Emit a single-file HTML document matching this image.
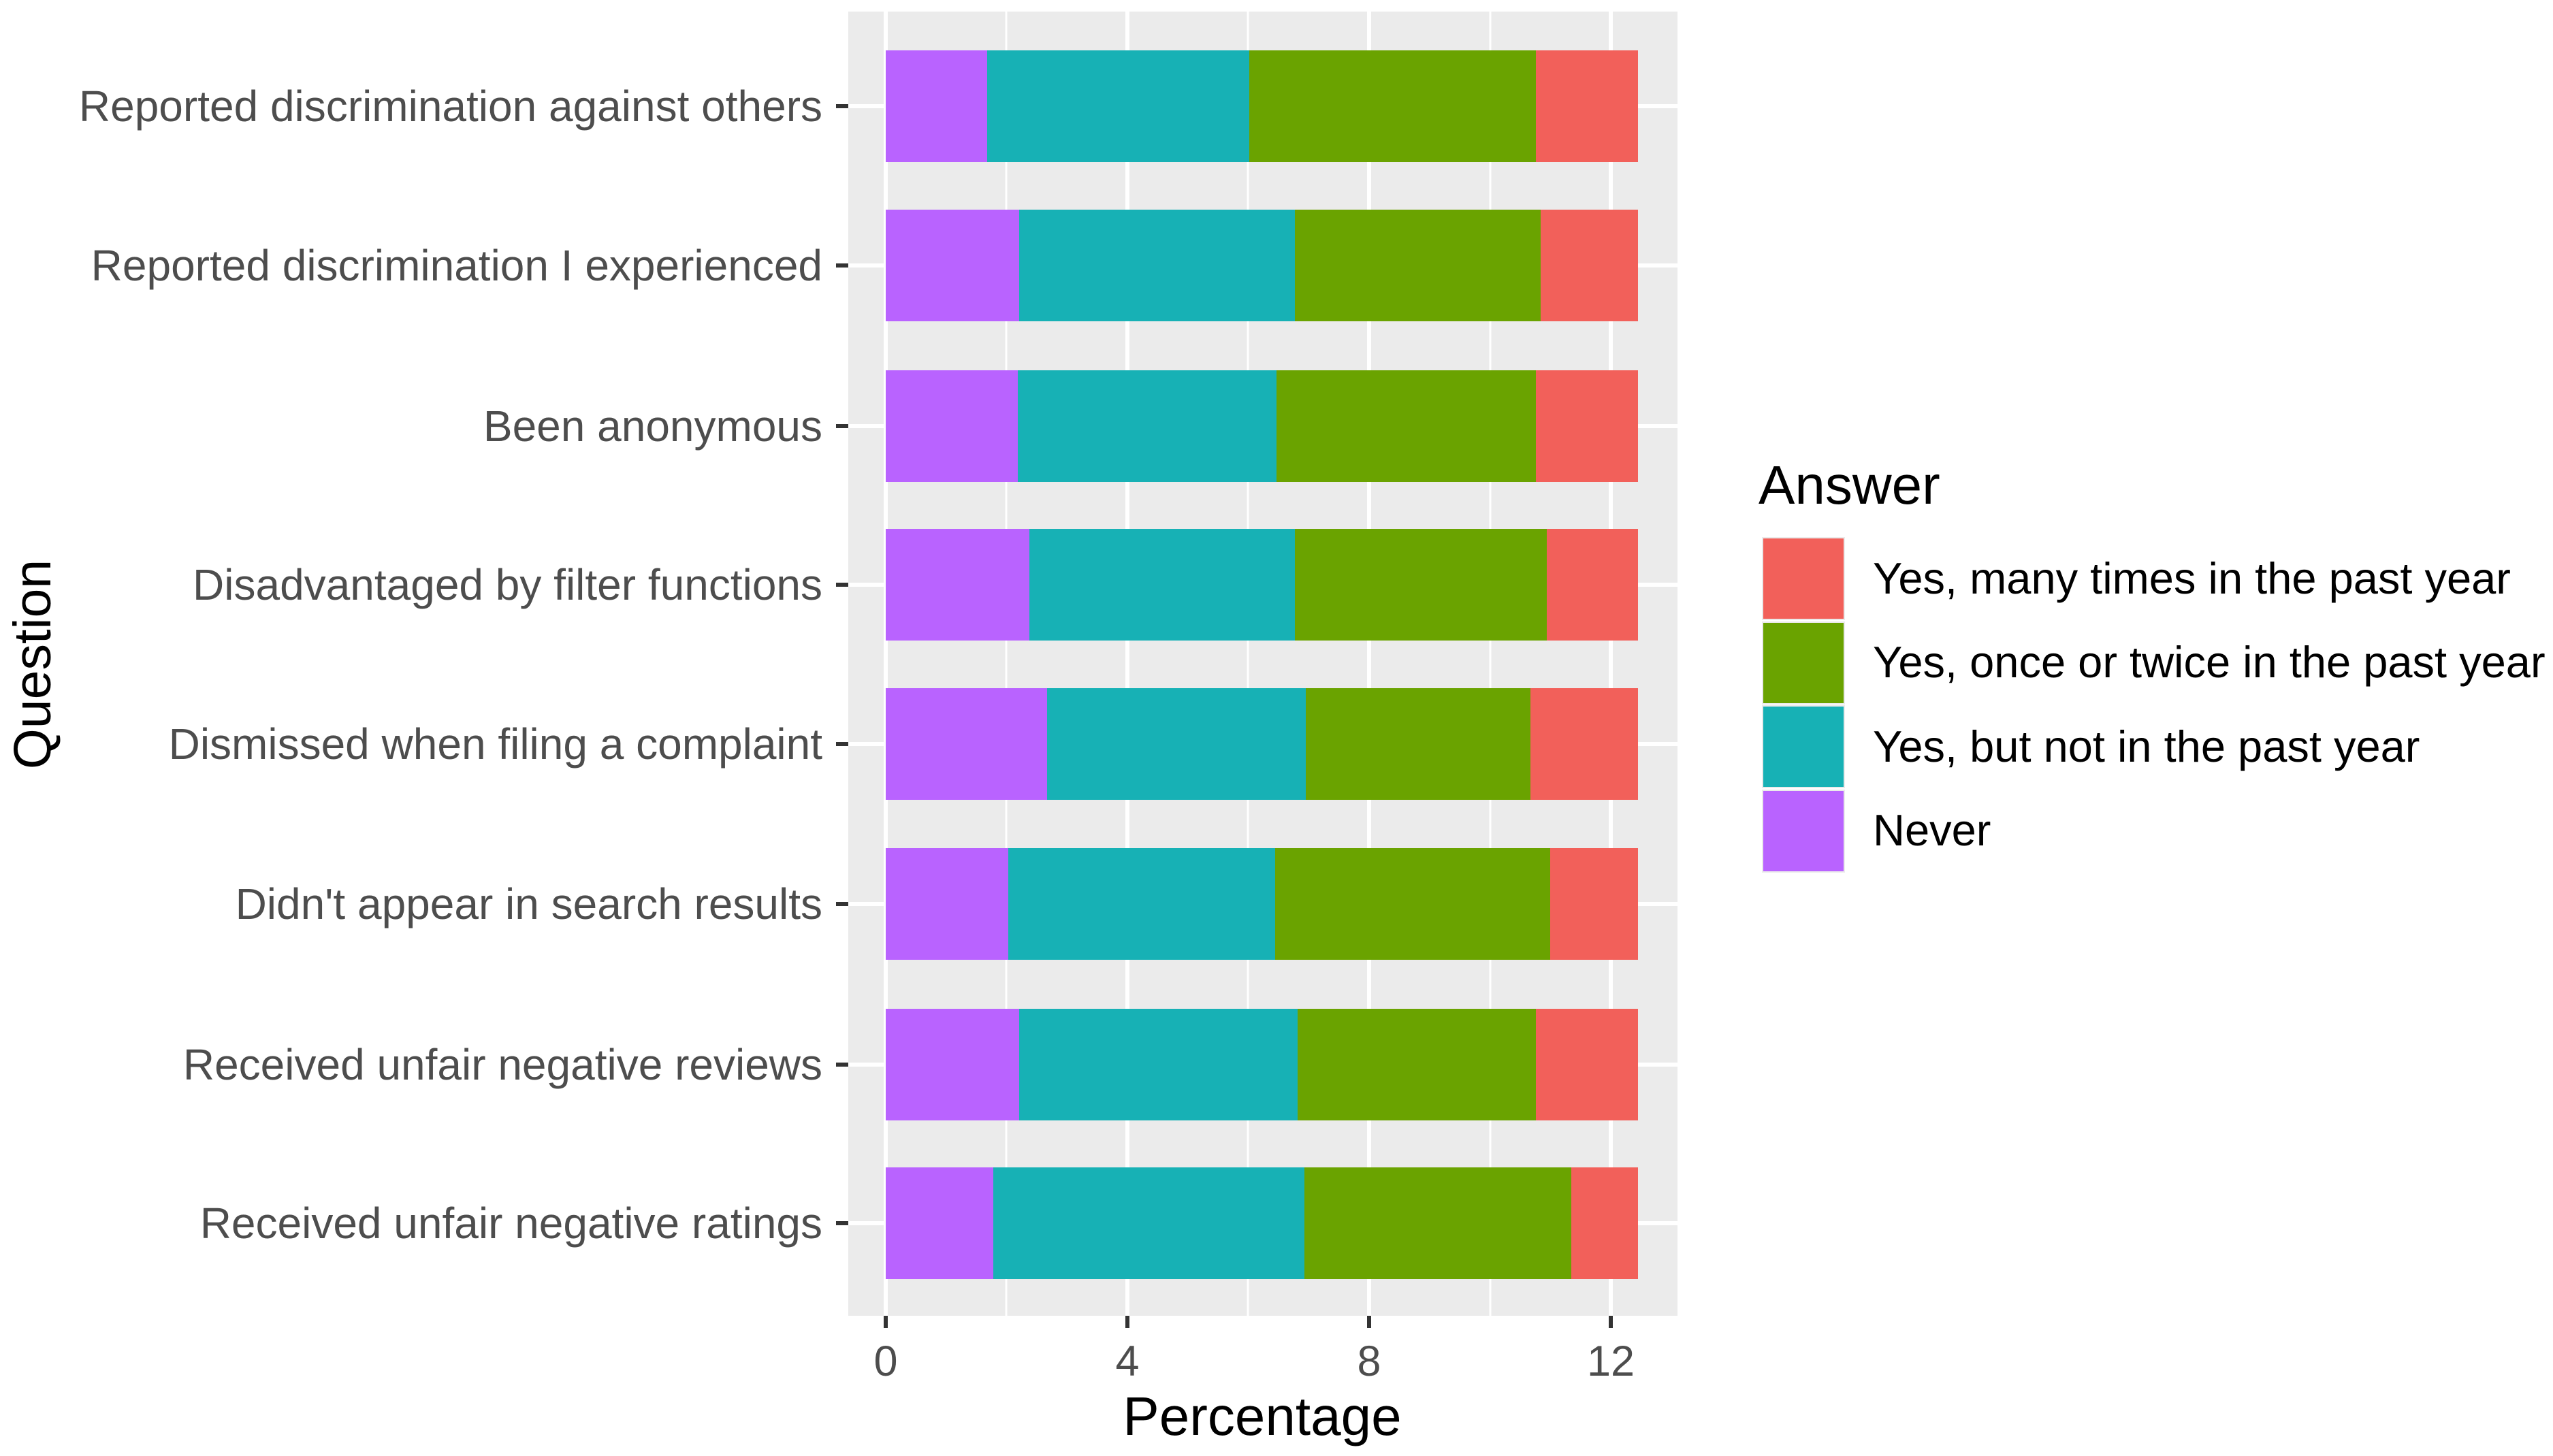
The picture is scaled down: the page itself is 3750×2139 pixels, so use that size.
<!DOCTYPE html>
<html><head><meta charset="utf-8"><style>html,body{margin:0;padding:0;background:#fff}svg{display:block}</style></head>
<body>
<svg width="3750" height="2139" viewBox="0 0 3750 2139" xmlns="http://www.w3.org/2000/svg" font-family="Liberation Sans, Arial, sans-serif">
<rect x="0" y="0" width="3750" height="2139" fill="#fff"/>
<rect x="1246" y="17" width="1218" height="1916" fill="#ebebeb"/>
<g stroke="#fff" stroke-width="3">
<line x1="1478" y1="17" x2="1478" y2="1933"/><line x1="1833" y1="17" x2="1833" y2="1933"/><line x1="2189" y1="17" x2="2189" y2="1933"/>
</g>
<g stroke="#fff" stroke-width="6">
<line x1="1301" y1="17" x2="1301" y2="1933"/><line x1="1656" y1="17" x2="1656" y2="1933"/><line x1="2011" y1="17" x2="2011" y2="1933"/><line x1="2366" y1="17" x2="2366" y2="1933"/>
<line x1="1246" y1="156" x2="2464" y2="156"/><line x1="1246" y1="390" x2="2464" y2="390"/><line x1="1246" y1="626" x2="2464" y2="626"/><line x1="1246" y1="859" x2="2464" y2="859"/><line x1="1246" y1="1093" x2="2464" y2="1093"/><line x1="1246" y1="1328" x2="2464" y2="1328"/><line x1="1246" y1="1564" x2="2464" y2="1564"/><line x1="1246" y1="1797" x2="2464" y2="1797"/>
</g>
<g>
<rect x="1301" y="74" width="149" height="164" fill="#b963ff"/><rect x="1450" y="74" width="385" height="164" fill="#17b1b5"/><rect x="1835" y="74" width="421" height="164" fill="#6aa300"/><rect x="2256" y="74" width="150" height="164" fill="#f2605a"/>
<rect x="1301" y="308" width="196" height="164" fill="#b963ff"/><rect x="1497" y="308" width="405" height="164" fill="#17b1b5"/><rect x="1902" y="308" width="361" height="164" fill="#6aa300"/><rect x="2263" y="308" width="143" height="164" fill="#f2605a"/>
<rect x="1301" y="544" width="194" height="164" fill="#b963ff"/><rect x="1495" y="544" width="380" height="164" fill="#17b1b5"/><rect x="1875" y="544" width="381" height="164" fill="#6aa300"/><rect x="2256" y="544" width="150" height="164" fill="#f2605a"/>
<rect x="1301" y="777" width="211" height="164" fill="#b963ff"/><rect x="1512" y="777" width="390" height="164" fill="#17b1b5"/><rect x="1902" y="777" width="370" height="164" fill="#6aa300"/><rect x="2272" y="777" width="134" height="164" fill="#f2605a"/>
<rect x="1301" y="1011" width="237" height="164" fill="#b963ff"/><rect x="1538" y="1011" width="380" height="164" fill="#17b1b5"/><rect x="1918" y="1011" width="330" height="164" fill="#6aa300"/><rect x="2248" y="1011" width="158" height="164" fill="#f2605a"/>
<rect x="1301" y="1246" width="180" height="164" fill="#b963ff"/><rect x="1481" y="1246" width="392" height="164" fill="#17b1b5"/><rect x="1873" y="1246" width="404" height="164" fill="#6aa300"/><rect x="2277" y="1246" width="129" height="164" fill="#f2605a"/>
<rect x="1301" y="1482" width="196" height="164" fill="#b963ff"/><rect x="1497" y="1482" width="409" height="164" fill="#17b1b5"/><rect x="1906" y="1482" width="350" height="164" fill="#6aa300"/><rect x="2256" y="1482" width="150" height="164" fill="#f2605a"/>
<rect x="1301" y="1715" width="158" height="164" fill="#b963ff"/><rect x="1459" y="1715" width="457" height="164" fill="#17b1b5"/><rect x="1916" y="1715" width="392" height="164" fill="#6aa300"/><rect x="2308" y="1715" width="98" height="164" fill="#f2605a"/>
</g>
<g stroke="#333" stroke-width="6">
<line x1="1228" y1="156" x2="1246" y2="156"/><line x1="1228" y1="390" x2="1246" y2="390"/><line x1="1228" y1="626" x2="1246" y2="626"/><line x1="1228" y1="859" x2="1246" y2="859"/><line x1="1228" y1="1093" x2="1246" y2="1093"/><line x1="1228" y1="1328" x2="1246" y2="1328"/><line x1="1228" y1="1564" x2="1246" y2="1564"/><line x1="1228" y1="1797" x2="1246" y2="1797"/>
<line x1="1301" y1="1933" x2="1301" y2="1951"/><line x1="1656" y1="1933" x2="1656" y2="1951"/><line x1="2011" y1="1933" x2="2011" y2="1951"/><line x1="2366" y1="1933" x2="2366" y2="1951"/>
</g>
<g fill="#4d4d4d" font-size="64" text-anchor="end">
<text x="1208" y="178">Reported discrimination against others</text>
<text x="1208" y="412">Reported discrimination I experienced</text>
<text x="1208" y="648">Been anonymous</text>
<text x="1208" y="881">Disadvantaged by filter functions</text>
<text x="1208" y="1115">Dismissed when filing a complaint</text>
<text x="1208" y="1350">Didn't appear in search results</text>
<text x="1208" y="1586">Received unfair negative reviews</text>
<text x="1208" y="1819">Received unfair negative ratings</text>
</g>
<g fill="#4d4d4d" font-size="63" text-anchor="middle">
<text x="1301" y="2021">0</text><text x="1656" y="2021">4</text><text x="2011" y="2021">8</text><text x="2366" y="2021">12</text>
</g>
<text x="1854" y="2108" font-size="80" text-anchor="middle" fill="#000">Percentage</text>
<text transform="translate(74,976) rotate(-90)" font-size="77" text-anchor="middle" fill="#000">Question</text>
<text x="2583" y="740" font-size="80" fill="#000">Answer</text>
<rect x="2588" y="789" width="122" height="122" fill="#ebebeb"/>
<rect x="2590" y="791" width="118" height="118" fill="#f2605a"/>
<rect x="2588" y="913" width="122" height="122" fill="#ebebeb"/>
<rect x="2590" y="915" width="118" height="118" fill="#6aa300"/>
<rect x="2588" y="1036" width="122" height="122" fill="#ebebeb"/>
<rect x="2590" y="1038" width="118" height="118" fill="#17b1b5"/>
<rect x="2588" y="1160" width="122" height="122" fill="#ebebeb"/>
<rect x="2590" y="1162" width="118" height="118" fill="#b963ff"/>
<g fill="#000" font-size="65">
<text x="2751" y="872">Yes, many times in the past year</text>
<text x="2751" y="995">Yes, once or twice in the past year</text>
<text x="2751" y="1119">Yes, but not in the past year</text>
<text x="2751" y="1242">Never</text>
</g>
</svg>
</body></html>
